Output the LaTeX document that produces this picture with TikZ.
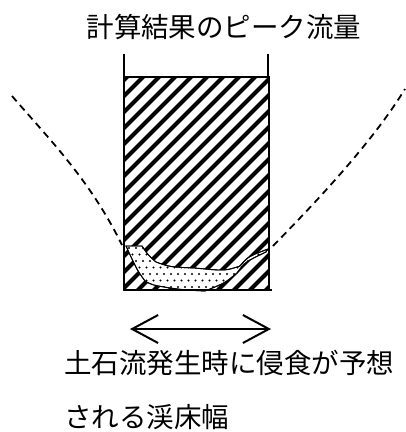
\documentclass[tikz,border=0pt]{standalone}
\usepackage{fontspec}
\newfontfamily\jp{Noto Sans CJK JP}
\usetikzlibrary{arrows.meta}
\tikzset{
  lbl/.style={font=\jp\fontsize{27.5}{30}\selectfont, inner sep=0pt},
  frame/.style={line width=2.2pt},
  post/.style={line width=1.3pt},
  bank/.style={line width=1.8pt, dash pattern=on 7pt off 5pt},
  stripe/.style={line width=4pt},
  silt/.style={fill=white, draw=black, line width=0.9pt},
  widtharrow/.style={line width=2pt, {Straight Barb[length=26pt,width=28pt,line width=2pt]}-{Straight Barb[length=26pt,width=28pt,line width=2pt]}}
}
\begin{document}
\begin{tikzpicture}[x=1pt,y=-1pt]
\useasboundingbox (0,0) rectangle (406,432);
% title
\node[lbl] (title) at (224,27) {計算結果のピーク流量};
% hatched flow area
\coordinate (tl) at (124,77);
\coordinate (br) at (269,290);
\begin{scope}
  \clip (tl) rectangle (br);
  \foreach \c in {44,60,...,620} {
    \draw[stripe] (\c-300,300) -- (\c,0);
  }
\end{scope}
% sediment deposit
\def\siltpath{(126,246) -- (142,246) .. controls (148,255) .. (156,262) .. controls (170,267) .. (195,268) .. controls (225,271) .. (240,266) .. controls (247,258) .. (255,254) -- (268,249) -- (266,252) .. controls (245,262) .. (237,273) .. controls (225,283) .. (205,291) .. controls (185,290) .. (170,288) .. controls (152,285) .. (145,281) .. controls (137,270) .. (126,246) -- cycle}
\path[silt] \siltpath;
\begin{scope}
  \clip \siltpath;
  \foreach \i in {0,...,22} {
    \foreach \j in {0,...,7} {
      \pgfmathsetmacro{\xx}{122+\i*7+mod(\j,2)*3.5}
      \pgfmathsetmacro{\yy}{248+\j*6.5}
      \fill (\xx,\yy) circle (1.1pt);
    }
  }
\end{scope}
\draw[silt, fill=none] \siltpath;
% frame
\draw[frame] (tl) rectangle (br);
\draw[frame] (br) -- ++(3,0);
\coordinate (lt) at (124,54);
\coordinate (rt) at (268,54);
\coordinate (rb) at (268,77);
\draw[post] (lt) -- (tl);
\draw[post] (rt) -- (rb);
% banks
\coordinate (l0) at (12,96);
\coordinate (l1) at (122,245);
\coordinate (r0) at (273,246);
\coordinate (r1) at (405,89);
\draw[bank] (l0) .. controls (50,140) and (90,180) .. (l1);
\draw[bank] (r0) .. controls (310,208) and (370,146) .. (r1);
% width arrow
\coordinate (al) at (130,329);
\coordinate (ar) at (271,329);
\draw[widtharrow] (al) -- (ar);
% caption
\node[lbl, anchor=west] (cap1) at (64,363) {土石流発生時に侵食が予想};
\node[lbl, anchor=west] (cap2) at (64,417) {される渓床幅};
\end{tikzpicture}
\end{document}
